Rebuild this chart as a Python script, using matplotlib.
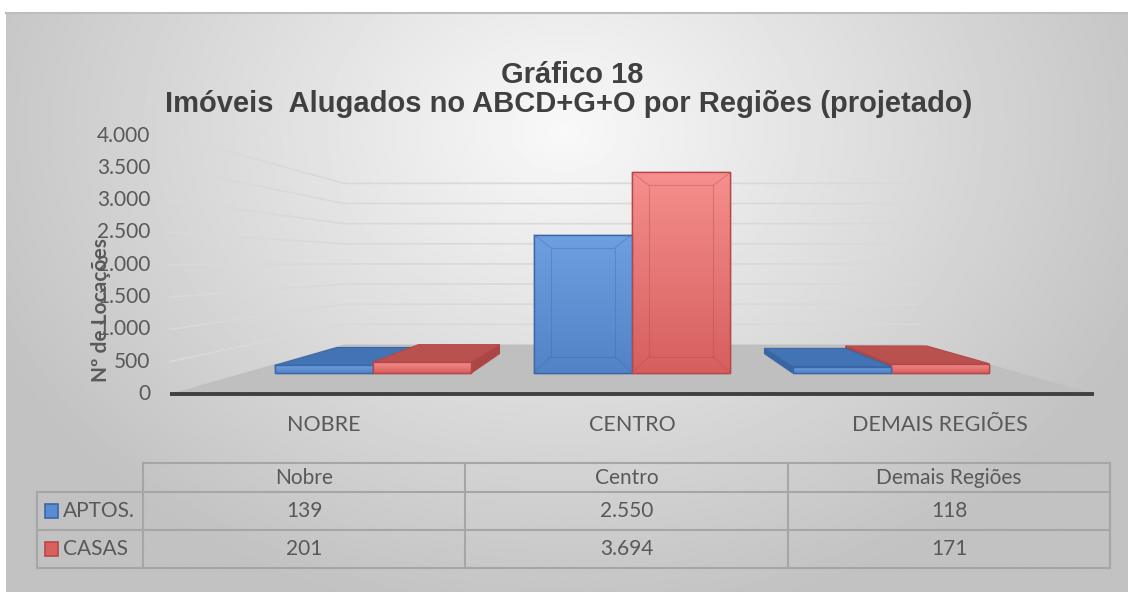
import numpy as np
import matplotlib
matplotlib.use("Agg")
import matplotlib.pyplot as plt
from matplotlib.patches import Polygon, Rectangle
from matplotlib.colors import LinearSegmentedColormap

# data
regions = ["NOBRE", "CENTRO", "DEMAIS REGIÕES"]
table_cols = ["Nobre", "Centro", "Demais Regiões"]
series = ["APTOS.", "CASAS"]
aptos = [139, 2550, 118]
casas = [201, 3694, 171]
yticks = [0, 500, 1000, 1500, 2000, 2500, 3000, 3500, 4000]

W, H = 1128, 592
fig = plt.figure(figsize=(W / 100, H / 100), dpi=100)

# background (pixel coords)
bg = fig.add_axes([0, 0, 1, 1])
bg.set_xlim(0, W)
bg.set_ylim(H, 0)
bg.axis("off")
yy, xx = np.mgrid[0:H, 0:W]
r = np.sqrt(((xx - 560) / 650.0) ** 2 + ((yy - 120) / 520.0) ** 2)
shade = np.clip(0.975 - 0.22 * r, 0.76, 0.975)
bg.imshow(shade, cmap="gray", vmin=0, vmax=1, extent=[6, W, H, 12],
          aspect="auto", zorder=0)
bg.plot([6, W], [12.5, 12.5], color="#bdbdbd", lw=1.5, zorder=1)

# main axes: data coords are the front plane of the bars
px0, py0 = 632, 373          # pixel of (x=1, v=0)
sx, sy = 259.0, 0.0543       # px per category, px per unit
ax = fig.add_axes([0, 0, 1, 1])
ax.axis("off")
ax.patch.set_alpha(0)

VH = 2033.0                  # horizon value (vanishing point)
KF, KB, KW = 1.19, 0.825, 0.742   # front floor, bar back, back wall


def proj(x, v, k):
    return 1 + k * (x - 1), VH + k * (v - VH)


# floor
floor = [proj(-0.5, 0, KF), proj(2.5, 0, KF), proj(2.5, 0, KW), proj(-0.5, 0, KW)]
ax.add_patch(Polygon(floor, closed=True, facecolor="#bfbfbf", edgecolor="none", zorder=1))

# gridlines: side wall and back wall
for v in yticks[1:]:
    a = proj(-0.5, v, KF)
    b = proj(-0.5, v, KW)
    c = proj(2.5, v, KW)
    ax.plot([a[0], b[0], c[0]], [a[1], b[1], c[1]], color="#d9d9d9", lw=1.2, zorder=1)

# axis line
a = proj(-0.5, 0, KF)
b = proj(2.5, 0, KF)
ax.plot([a[0], b[0]], [a[1], b[1]], color="#404040", lw=2.8, zorder=2, solid_capstyle="butt")

# y tick labels on the front plane
for v in yticks:
    p = proj(-0.5, v, KF)
    ax.annotate(f"{v:,}".replace(",", "."), p, xytext=(-14, 0), textcoords="offset points",
                ha="right", va="center", fontsize=15, color="#595959", family="Lato")

# category labels
for i, lab in enumerate(regions):
    p = proj(i, 0, KF)
    ax.annotate(lab, p, xytext=(0, -22), textcoords="offset points",
                ha="center", va="center", fontsize=15.5, color="#595959", family="Lato")

ax.text(101 / W, 1 - 310 / H, "Nº de Locações", transform=fig.transFigure, rotation=90,
        ha="center", va="center", fontsize=15, fontweight="bold", color="#595959",
        family="Lato")

# bars
bw = 0.38
styles = {
    "APTOS.": dict(top=("#6e9fe0", "#5283c6"), lid="#4273b5", side="#3a65a3", edge="#3c67a6"),
    "CASAS": dict(top=("#f58f8d", "#d65f5e"), lid="#b9524f", side="#a84745", edge="#b44848"),
}


def draw_bar(x0, v, st):
    x1 = x0 + bw
    z = 3 + (1 - abs((x0 + x1) / 2 - 1))
    # side face
    if x1 <= 1:
        sxp = x1
    elif x0 >= 1:
        sxp = x0
    else:
        sxp = None
    if sxp is not None and abs(sxp - 1) > 1e-6:
        pts = [proj(sxp, 0, 1), proj(sxp, v, 1), proj(sxp, v, KB), proj(sxp, 0, KB)]
        ax.add_patch(Polygon(pts, closed=True, facecolor=st["side"], edgecolor=st["edge"],
                             lw=0.8, zorder=z))
    # top face
    if v < VH:
        pts = [proj(x0, v, 1), proj(x1, v, 1), proj(x1, v, KB), proj(x0, v, KB)]
        ax.add_patch(Polygon(pts, closed=True, facecolor=st["lid"], edgecolor=st["edge"],
                             lw=0.8, zorder=z))
    # front face
    bar = ax.bar(x0, v, width=bw, align="edge", color=st["top"][1], edgecolor=st["edge"],
                 lw=1.0, zorder=z + 0.1)[0]
    cmap = LinearSegmentedColormap.from_list("g", [st["top"][1], st["top"][0]])
    im = ax.imshow(np.linspace(0, 1, 64).reshape(-1, 1), cmap=cmap, origin="lower",
                   extent=[x0, x1, 0, v], aspect="auto", zorder=z + 0.15)
    im.set_clip_path(bar)
    ax.add_patch(Rectangle((x0, 0), bw, v, facecolor="none", edgecolor=st["edge"],
                           lw=1.0, zorder=z + 0.3))
    # bevel
    dx = 0.066
    dv = min(300, v * 0.12)
    if v > 1000:
        inner = [(x0 + dx, dv), (x1 - dx, dv), (x1 - dx, v - dv * 0.8), (x0 + dx, v - dv * 0.8)]
        ax.add_patch(Polygon(inner, closed=True, facecolor="none", edgecolor=st["edge"],
                             lw=0.8, alpha=0.35, zorder=z + 0.2))
        outer = [(x0, 0), (x1, 0), (x1, v), (x0, v)]
        for o, ii in zip(outer, inner):
            ax.plot([o[0], ii[0]], [o[1], ii[1]], color=st["edge"], lw=0.8, alpha=0.35,
                    zorder=z + 0.2)


for i in range(len(regions)):
    order = [("APTOS.", aptos[i], i - bw), ("CASAS", casas[i], i)]
    if i > 1:
        order = order[::-1]
    for name, v, x0 in order:
        draw_bar(x0, v, styles[name])

ax.set_xlim(1 - px0 / sx, 1 + (W - px0) / sx)
ax.set_ylim((py0 - H) / sy, py0 / sy)

# title
fig.text(572 / W, 1 - 75 / H, "Gráfico 18", ha="center", va="center", fontsize=21,
         fontweight="bold", color="#404040", family="Liberation Sans")
fig.text(569 / W, 1 - 104 / H, "Imóveis  Alugados no ABCD+G+O por Regiões (projetado)",
         ha="center", va="center", fontsize=21, fontweight="bold", color="#404040",
         family="Liberation Sans")

# data table (pixel coords on bg)
col_x = [143, 465, 788, 1110]
row_y = [463, 492, 530, 568]
lab_x = 37
lc = "#a6a6a6"
bg.plot([col_x[0], col_x[-1]], [row_y[0], row_y[0]], color=lc, lw=1.5)
for yv in row_y[1:]:
    bg.plot([lab_x, col_x[-1]], [yv, yv], color=lc, lw=1.5)
for xv in col_x:
    bg.plot([xv, xv], [row_y[0], row_y[-1]], color=lc, lw=1.5)
bg.plot([lab_x, lab_x], [row_y[1], row_y[-1]], color=lc, lw=1.5)

for j, c in enumerate(table_cols):
    bg.text((col_x[j] + col_x[j + 1]) / 2, (row_y[0] + row_y[1]) / 2, c, ha="center",
            va="center", fontsize=15, color="#595959", family="Lato")
key_cols = [("#5b8bd0", "#3c67a6"), ("#d9605f", "#b44848")]
for r_i, (name, vals) in enumerate(zip(series, [aptos, casas])):
    yc = (row_y[r_i + 1] + row_y[r_i + 2]) / 2
    bg.add_patch(Rectangle((45, yc - 7), 13, 14, facecolor=key_cols[r_i][0],
                           edgecolor=key_cols[r_i][1], lw=1.2))
    bg.text(63, yc, name, ha="left", va="center", fontsize=15, color="#595959", family="Lato")
    for j, v in enumerate(vals):
        bg.text((col_x[j] + col_x[j + 1]) / 2, yc, f"{v:,}".replace(",", "."), ha="center",
                va="center", fontsize=15, color="#595959", family="Lato")

fig.savefig("out.png", dpi=100)
